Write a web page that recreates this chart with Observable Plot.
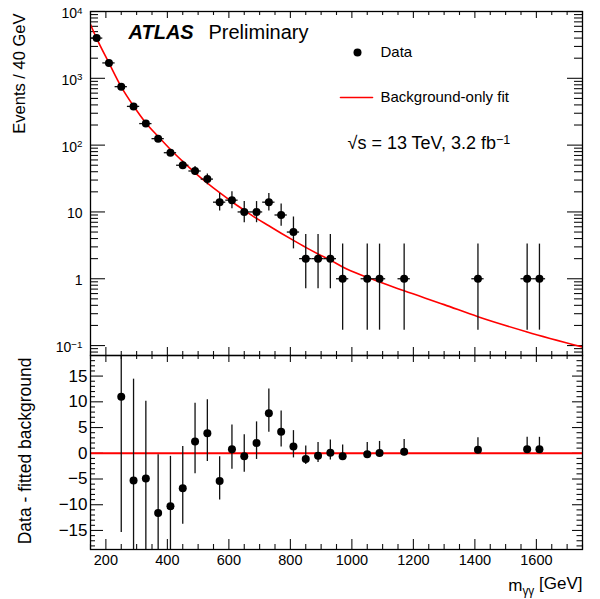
<!DOCTYPE html>
<html><head><meta charset="utf-8">
<script src="https://cdn.jsdelivr.net/npm/d3@7"></script>
<script src="https://cdn.jsdelivr.net/npm/@observablehq/plot@0.6"></script>
<style>
body{margin:0;background:#fff;}
#wrap{position:relative;width:600px;height:599px;}
#wrap svg{position:absolute;left:0;overflow:visible;background:transparent;}
</style></head><body><div id="wrap"></div>
<script>
// ---------- data ----------
const massBins   = [170,210,250,290,330,370,410,450,490,530,570,610,650,690,730,770,810,850,890,930,970,1050,1090,1170,1410,1570,1610];
const events     = [4000,1700,750,380,210,125,77,50,41,31,14,15,10,10,14,9,5,2,2,2,1,1,1,1,1,1,1];
const eventsLow  = [3937,1659,723,361,196,114,68.5,43,35,25.5,10.3,11.2,6.9,6.9,10.3,6.1,2.8,0.71,0.71,0.71,0.17,0.17,0.17,0.17,0.17,0.17,0.17];
const eventsHigh = [4064,1742,778,400,225,137,86,57.5,48,37,18.9,20,14.3,14.3,18.9,13.2,8.4,4.6,4.6,4.6,3.3,3.3,3.3,3.3,3.3,3.3,3.3];
const binHalfWidth = 20;

const fitMass   = [150,170,210,250,290,330,370,410,450,490,530,570,610,650,690,730,770,810,850,890,930,970,1050,1170,1300,1410,1570,1750];
const fitValues = [6400,3950,1700,745,385,215,135,86,57,38.5,27,19.4,14.2,10.6,8.0,6.2,4.8,3.75,2.95,2.35,1.9,1.5,1.05,0.66,0.41,0.27,0.16,0.095];

const residualMass = [250,290,330,370,410,450,490,530,570,610,650,690,730,770,810,850,890,930,970,1050,1090,1170,1410,1570,1610];
const residuals    = [11,-5.3,-4.9,-11.6,-10.3,-6.8,2.3,3.9,-5.4,0.8,-0.6,2.0,7.8,4.2,1.3,-1.1,-0.5,0.1,-0.6,-0.2,0.05,0.3,0.7,0.8,0.8];
const residualLow  = [-15.4,-33,-19.4,-22.8,-19.1,-13.8,-4.0,-1.6,-9.1,-3.1,-3.7,-1.2,4.1,1.2,-0.9,-2.2,-1.8,-1.3,-1.4,-0.9,-0.7,-0.5,-0.1,0,0];
const residualHigh = [39,14.4,10.1,-0.3,-0.6,1.3,9.7,10.4,-0.7,5.5,3.6,6.1,12.5,8.2,4.4,1.4,2.1,2.6,1.6,2.1,2.3,2.7,3.0,3.1,3.1];

const logTickValues = [0.1,1,10,100,1000,10000];
const logTickLabels = ["10^-1","1","10","10^2","10^3","10^4"];
const resTickValues = [-15,-10,-5,0,5,10,15];
const resTickLabels = ["\u221215","\u221210","\u22125","0","5","10","15"];
const massTickValues = [200,400,600,800,1000,1200,1400,1600];
const massTickLabels = ["200","400","600","800","1000","1200","1400","1600"];

// ---------- tables ----------
const dataTable = massBins.map((m,i)=>({m, n:events[i], lo:eventsLow[i], hi:eventsHigh[i]}));
const fitTable = fitMass.map((m,i)=>({m, f:fitValues[i]}));
const resTable = residualMass.map((m,i)=>({m, r:residuals[i], lo:residualLow[i], hi:residualHigh[i]}));

// ---------- minor tick helpers ----------
const yTopDomain = [0.071, 10000];
const logMinor = [];
for (let e=-2;e<=3;e++) for (let k=2;k<=9;k++){const v=k*Math.pow(10,e); if(v>=yTopDomain[0]&&v<=yTopDomain[1]) logMinor.push(v);}
const resDomain = [-18.7, 19];
const resMinor = d3.range(-18,19,1).filter(v=>v%5!==0);
const xDomain = [150,1750];
const massMinor = d3.range(150,1751,50).filter(v=>v%200!==0);

const W=600, ML=90, MR=18;
const innerW = W-ML-MR;
const FONT = "'Liberation Sans', Arial, Helvetica, sans-serif";
const INK = "#111";
const RED = "#ff0000";

// ---------- top panel ----------
const topH = 355, topMT = 11, topMB = 0;
const topInner = topH-topMT-topMB;
const lineShape = {draw(ctx,l){ctx.moveTo(0,0);ctx.lineTo(0,-l);}};

const topPlot = Plot.plot({
  width: W, height: topH, marginLeft: ML, marginRight: MR, marginTop: topMT, marginBottom: topMB,
  style: {fontFamily: FONT, fontSize: "14px", background: "transparent", overflow: "visible"},
  x: {domain: xDomain, axis: null, label: null},
  y: {type: "log", domain: yTopDomain, axis: null, label: null},
  marks: [
    Plot.ruleY(logTickValues, {stroke: INK, strokeWidth: 1.1, insetRight: innerW-15}),
    Plot.ruleY(logMinor, {stroke: INK, strokeWidth: 1.1, insetRight: innerW-8}),
    Plot.ruleY(logTickValues, {stroke: INK, strokeWidth: 1.1, insetLeft: innerW-15}),
    Plot.ruleY(logMinor, {stroke: INK, strokeWidth: 1.1, insetLeft: innerW-8}),
    Plot.ruleX(massTickValues, {stroke: INK, strokeWidth: 1.1, insetBottom: topInner-7}),
    Plot.ruleX(massMinor, {stroke: INK, strokeWidth: 1.1, insetBottom: topInner-4}),
    Plot.ruleX(massTickValues, {stroke: INK, strokeWidth: 1.1, insetTop: topInner-8}),
    Plot.ruleX(massMinor, {stroke: INK, strokeWidth: 1.1, insetTop: topInner-4}),
    Plot.axisY(logTickValues, {anchor: "left", tickSize: 0, tickPadding: 8, fontSize: 14, dy: 2, label: null,
      tickFormat: d => logTickLabels[logTickValues.indexOf(d)]}),
    Plot.line(fitTable, {x: "m", y: "f", stroke: RED, strokeWidth: 1.6, curve: "monotone-x", clip: "frame"}),
    Plot.ruleX(dataTable, {x: "m", y1: "lo", y2: "hi", stroke: INK, strokeWidth: 1.3, clip: "frame"}),
    Plot.ruleY(dataTable, {y: "n", x1: d => d.m-binHalfWidth, x2: d => d.m+binHalfWidth, stroke: INK, strokeWidth: 1.3}),
    Plot.dot(dataTable, {x: "m", y: "n", r: 4, fill: "black", stroke: null}),
    Plot.text(["Events / 40 GeV"], {text: d=>d, frameAnchor: "top-left", rotate: -90, textAnchor: "end", lineAnchor: "middle", dx: -71, dy: 2, fontSize: 16.5, fill: "black"}),
    Plot.text(["ATLAS"], {text: d=>d, frameAnchor: "top-left", textAnchor: "start", lineAnchor: "middle", dx: 38, dy: 21, fontSize: 20, fontWeight: "bold", fontStyle: "italic", fill: "black"}),
    Plot.text(["Preliminary"], {text: d=>d, frameAnchor: "top-left", textAnchor: "start", lineAnchor: "middle", dx: 118, dy: 21, fontSize: 20, fill: "black"}),
    Plot.dot(["Data"], {frameAnchor: "top-left", dx: 267, dy: 41, r: 4, fill: "black", stroke: null}),
    Plot.text(["Data"], {text: d=>d, frameAnchor: "top-left", textAnchor: "start", lineAnchor: "middle", dx: 290, dy: 41, fontSize: 15, fill: "black"}),
    Plot.vector(["fit"], {frameAnchor: "top-left", dx: 250, dy: 86, length: 32, rotate: 90, anchor: "start", stroke: RED, strokeWidth: 1.6, shape: lineShape}),
    Plot.text(["Background-only fit"], {text: d=>d, frameAnchor: "top-left", textAnchor: "start", lineAnchor: "middle", dx: 290, dy: 86, fontSize: 15, fill: "black"}),
    Plot.text(["\u221As = 13 TeV, 3.2 fb^-1"], {text: d=>d, frameAnchor: "top-left", textAnchor: "start", lineAnchor: "middle", dx: 257, dy: 132, fontSize: 18, fill: "black"}),
    Plot.frame({stroke: "black", strokeWidth: 1.3})
  ]
});

// ---------- bottom panel ----------
const botH = 244, botMT = 0, botMB = 50;
const botInner = botH-botMT-botMB;
const bottomPlot = Plot.plot({
  width: W, height: botH, marginLeft: ML, marginRight: MR, marginTop: botMT, marginBottom: botMB,
  style: {fontFamily: FONT, fontSize: "14px", background: "transparent", overflow: "visible"},
  x: {domain: xDomain, axis: null, label: null},
  y: {domain: resDomain, axis: null, label: null},
  marks: [
    Plot.ruleY(resTickValues, {stroke: INK, strokeWidth: 1.1, insetRight: innerW-13}),
    Plot.ruleY(resMinor, {stroke: INK, strokeWidth: 1.1, insetRight: innerW-5}),
    Plot.ruleY(resTickValues, {stroke: INK, strokeWidth: 1.1, insetLeft: innerW-10}),
    Plot.ruleY(resMinor, {stroke: INK, strokeWidth: 1.1, insetLeft: innerW-5.5}),
    Plot.ruleX(massTickValues, {stroke: INK, strokeWidth: 1.1, insetTop: botInner-10}),
    Plot.ruleX(massMinor, {stroke: INK, strokeWidth: 1.1, insetTop: botInner-5}),
    Plot.ruleX(massTickValues, {stroke: INK, strokeWidth: 1.1, insetBottom: botInner-7}),
    Plot.ruleX(massMinor, {stroke: INK, strokeWidth: 1.1, insetBottom: botInner-4}),
    Plot.axisY(resTickValues, {anchor: "left", tickSize: 0, tickPadding: 3, fontSize: 17, label: null,
      tickFormat: d => resTickLabels[resTickValues.indexOf(d)]}),
    Plot.axisX(massTickValues, {anchor: "bottom", tickSize: 0, tickPadding: 5, fontSize: 14.5, label: null,
      tickFormat: d => massTickLabels[massTickValues.indexOf(d)]}),
    Plot.ruleY([0], {stroke: RED, strokeWidth: 2}),
    Plot.ruleX(resTable, {x: "m", y1: "lo", y2: "hi", stroke: INK, strokeWidth: 1.3, clip: "frame"}),
    Plot.dot(resTable, {x: "m", y: "r", r: 4, fill: "black", stroke: null}),
    Plot.text(["Data - fitted background"], {text: d=>d, frameAnchor: "top-left", rotate: -90, textAnchor: "end", lineAnchor: "middle", dx: -65, dy: 2, fontSize: 17.5, fill: "black"}),
    Plot.text(["m_\u03B3\u03B3 [GeV]"], {text: d=>d, frameAnchor: "bottom-right", textAnchor: "end", lineAnchor: "middle", dx: 0, dy: 36, fontSize: 17, fill: "black"}),
    Plot.frame({stroke: "black", strokeWidth: 1.3})
  ]
});

const wrap = document.getElementById("wrap");
topPlot.style.top = "0px";
bottomPlot.style.top = topH + "px";
wrap.appendChild(topPlot);
wrap.appendChild(bottomPlot);

function richText(svg){
  d3.select(svg).selectAll("text").each(function(){
    const t = this.textContent;
    if (t.includes("_")) {
      const [a, rest] = t.split("_");
      const sub = rest.split(" ")[0];
      const tail = rest.slice(sub.length);
      this.textContent = "";
      const s = d3.select(this);
      s.append("tspan").text(a);
      s.append("tspan").attr("dy", "0.3em").attr("font-size", "0.7em").text(sub);
      s.append("tspan").attr("dy", "-0.3em").text(tail);
    } else if (t.includes("^")) {
      const [a, b] = t.split("^");
      this.textContent = "";
      const s = d3.select(this);
      s.append("tspan").text(a);
      s.append("tspan").attr("dy", "-0.45em").attr("font-size", "0.7em").text(b.replace("-", "\u2212"));
    }
  });
}
richText(topPlot); richText(bottomPlot);
</script></body></html>
